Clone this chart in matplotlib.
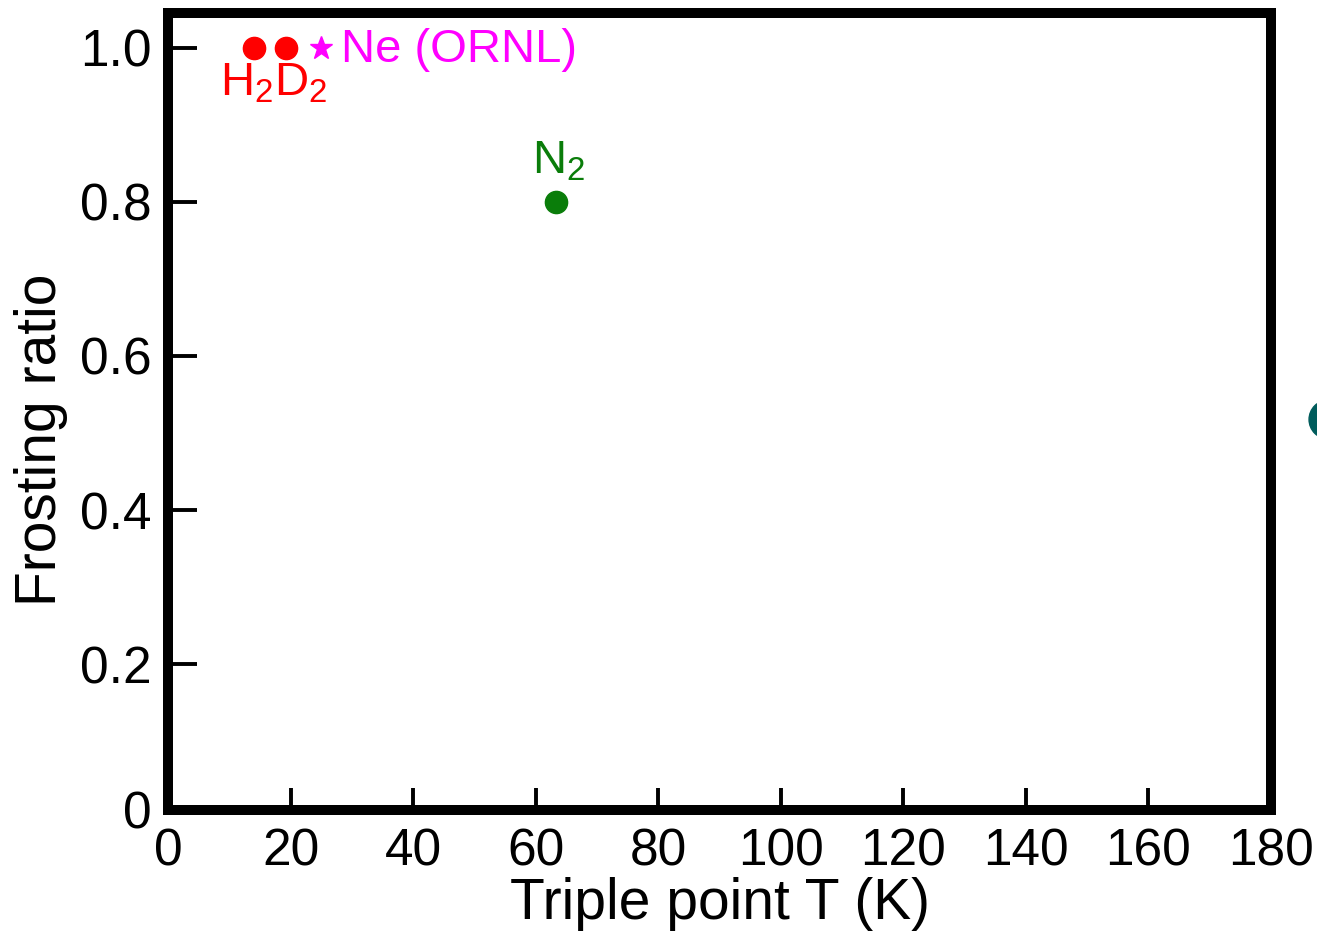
import matplotlib.pyplot as plt
import matplotlib.lines as mlines

plt.rcParams['font.family'] = ['Liberation Sans', 'DejaVu Sans']
plt.rcParams['mathtext.fontset'] = 'custom'
plt.rcParams['mathtext.rm'] = 'Liberation Sans'
plt.rcParams['mathtext.it'] = 'Liberation Sans:italic'
plt.rcParams['mathtext.bf'] = 'Liberation Sans:bold'

# triple point temperature (K) and frosting ratio
h2_d2_t = [14.0, 19.3]
h2_d2_ratio = [1.0, 1.0]
ne_t = [25.0]
ne_ratio = [1.0]
n2_t = [63.3]
n2_ratio = [0.8]

x_ticks = [0, 20, 40, 60, 80, 100, 120, 140, 160, 180]
y_ticks = [0.2, 0.4, 0.6, 0.8, 1.0]
y_tick_labels = ['0.2', '0.4', '0.6', '0.8', '1.0']
y_bottom = 0.011

fig = plt.figure(figsize=(13.17, 9.33), dpi=100)
ax = fig.add_axes([0.1276, 0.132, 0.8375, 0.854])

ax.plot(h2_d2_t, h2_d2_ratio, 'o', color='#ff0000', markersize=16, clip_on=False)
ax.plot(ne_t, ne_ratio, '*', color='#ff00ff', markersize=17, clip_on=False)
ax.plot(n2_t, n2_ratio, 'o', color='#0a7d0a', markersize=16, clip_on=False)

ax.text(17.2, 0.953, 'H$_2$D$_2$', color='#ff0000', fontsize=34, ha='center', va='center')
ax.text(28.2, 0.997, 'Ne (ORNL)', color='#ff00ff', fontsize=34, ha='left', va='center')
ax.text(63.8, 0.852, 'N$_2$', color='#0a7d0a', fontsize=34, ha='center', va='center')

ax.set_xlim(0, 180)
ax.set_ylim(y_bottom, 1.045)
ax.set_xticks(x_ticks)
ax.set_yticks([y_bottom] + y_ticks)
ax.set_yticklabels(['0'] + y_tick_labels)

for s in ax.spines.values():
    s.set_linewidth(7.2)
ax.tick_params(axis='y', direction='in', length=21, width=2.8, labelsize=37, pad=12)
ax.tick_params(axis='x', direction='in', length=16, width=2.8, labelsize=37, pad=13)
ax.set_xlabel('Triple point T (K)', fontsize=41, labelpad=0)
ax.set_ylabel('Frosting ratio', fontsize=41)
ax.yaxis.set_label_coords(-0.091, 0.464)

# partial marker cut off at the right edge of the picture
fig.add_artist(mlines.Line2D([1.0084], [0.551], marker='o', markersize=28,
                             color='#005c5c', transform=fig.transFigure))

fig.savefig('out.png', dpi=100)
